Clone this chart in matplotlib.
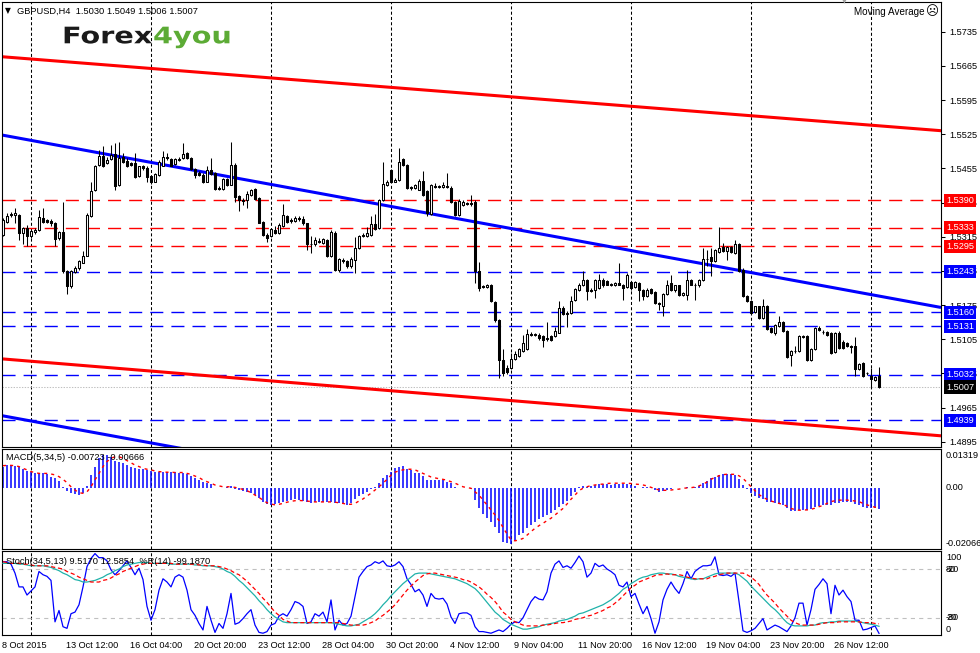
import numpy as np
import matplotlib
matplotlib.use("Agg")
import matplotlib.pyplot as plt
from matplotlib.patches import Rectangle, PathPatch
from matplotlib.collections import PatchCollection
from matplotlib.textpath import TextPath
from matplotlib.font_manager import FontProperties
from matplotlib.transforms import Affine2D, blended_transform_factory

plt.rcParams["font.family"] = ["Liberation Sans", "DejaVu Sans"]
plt.rcParams["lines.scale_dashes"] = False

# ---- GBPUSD H4 candles ---------------------------------------------------
opens = np.array([
    1.5319, 1.5346, 1.5359, 1.5359, 1.5359, 1.5322, 1.5333, 1.5316, 1.5324, 1.5329,
    1.5353, 1.5350, 1.5348, 1.5344, 1.5312, 1.5325, 1.5245, 1.5213, 1.5243, 1.5250,
    1.5262, 1.5276, 1.5357, 1.5410, 1.5462, 1.5481, 1.5466, 1.5474, 1.5484, 1.5421,
    1.5479, 1.5470, 1.5466, 1.5466, 1.5440, 1.5460, 1.5455, 1.5440, 1.5428, 1.5442,
    1.5460, 1.5479, 1.5474, 1.5464, 1.5472, 1.5476, 1.5486, 1.5476, 1.5453, 1.5445,
    1.5442, 1.5428, 1.5452, 1.5445, 1.5414, 1.5412, 1.5434, 1.5421, 1.5462, 1.5399,
    1.5391, 1.5391, 1.5401, 1.5412, 1.5394, 1.5346, 1.5319, 1.5316, 1.5329, 1.5322,
    1.5336, 1.5358, 1.5350, 1.5348, 1.5353, 1.5351, 1.5342, 1.5301, 1.5299, 1.5307,
    1.5302, 1.5309, 1.5275, 1.5322, 1.5246, 1.5268, 1.5265, 1.5254, 1.5268, 1.5292,
    1.5317, 1.5316, 1.5319, 1.5341, 1.5333, 1.5391, 1.5421, 1.5452, 1.5428, 1.5432,
    1.5474, 1.5462, 1.5416, 1.5414, 1.5411, 1.5430, 1.5408, 1.5362, 1.5419, 1.5417,
    1.5416, 1.5419, 1.5414, 1.5387, 1.5360, 1.5380, 1.5384, 1.5385, 1.5387, 1.5244,
    1.5213, 1.5211, 1.5217, 1.5181, 1.5145, 1.5063, 1.5046, 1.5046, 1.5065, 1.5070,
    1.5080, 1.5084, 1.5116, 1.5114, 1.5114, 1.5112, 1.5108, 1.5111, 1.5111, 1.5118,
    1.5169, 1.5159, 1.5159, 1.5186, 1.5206, 1.5215, 1.5227, 1.5206, 1.5205, 1.5210,
    1.5227, 1.5225, 1.5217, 1.5215, 1.5220, 1.5217, 1.5212, 1.5222, 1.5212, 1.5220,
    1.5205, 1.5193, 1.5208, 1.5201, 1.5179, 1.5174, 1.5198, 1.5220, 1.5205, 1.5215,
    1.5195, 1.5196, 1.5227, 1.5217, 1.5215, 1.5227, 1.5270, 1.5273, 1.5266, 1.5284,
    1.5294, 1.5285, 1.5293, 1.5282, 1.5301, 1.5247, 1.5194, 1.5183, 1.5160, 1.5172,
    1.5148, 1.5174, 1.5128, 1.5118, 1.5133, 1.5140, 1.5121, 1.5072, 1.5080, 1.5080,
    1.5110, 1.5111, 1.5063, 1.5084, 1.5127, 1.5120, 1.5120, 1.5118, 1.5078, 1.5118,
    1.5099, 1.5097, 1.5092, 1.5091, 1.5043, 1.5056, 1.5036, 1.5029, 1.5022, 1.5030])
highs = np.array([
    1.5353, 1.5363, 1.5365, 1.5374, 1.5361, 1.5335, 1.5338, 1.5329, 1.5333, 1.5370,
    1.5374, 1.5352, 1.5352, 1.5346, 1.5327, 1.5386, 1.5247, 1.5247, 1.5254, 1.5268,
    1.5286, 1.5363, 1.5426, 1.5462, 1.5493, 1.5500, 1.5479, 1.5503, 1.5507, 1.5508,
    1.5486, 1.5476, 1.5468, 1.5486, 1.5460, 1.5462, 1.5459, 1.5442, 1.5445, 1.5472,
    1.5490, 1.5486, 1.5476, 1.5476, 1.5479, 1.5507, 1.5488, 1.5478, 1.5455, 1.5449,
    1.5445, 1.5460, 1.5476, 1.5447, 1.5418, 1.5435, 1.5435, 1.5509, 1.5466, 1.5401,
    1.5394, 1.5408, 1.5412, 1.5414, 1.5396, 1.5348, 1.5322, 1.5333, 1.5336, 1.5342,
    1.5382, 1.5360, 1.5353, 1.5358, 1.5357, 1.5357, 1.5343, 1.5316, 1.5314, 1.5312,
    1.5312, 1.5311, 1.5329, 1.5326, 1.5271, 1.5271, 1.5268, 1.5273, 1.5314, 1.5319,
    1.5322, 1.5335, 1.5358, 1.5361, 1.5392, 1.5467, 1.5432, 1.5453, 1.5435, 1.5496,
    1.5476, 1.5464, 1.5419, 1.5423, 1.5433, 1.5449, 1.5410, 1.5423, 1.5425, 1.5421,
    1.5428, 1.5445, 1.5418, 1.5389, 1.5392, 1.5391, 1.5387, 1.5401, 1.5391, 1.5264,
    1.5217, 1.5219, 1.5219, 1.5183, 1.5147, 1.5084, 1.5053, 1.5077, 1.5080, 1.5087,
    1.5114, 1.5126, 1.5119, 1.5118, 1.5118, 1.5114, 1.5141, 1.5114, 1.5129, 1.5183,
    1.5172, 1.5162, 1.5194, 1.5210, 1.5220, 1.5244, 1.5229, 1.5210, 1.5229, 1.5239,
    1.5230, 1.5227, 1.5221, 1.5223, 1.5261, 1.5219, 1.5241, 1.5224, 1.5224, 1.5222,
    1.5208, 1.5210, 1.5210, 1.5203, 1.5181, 1.5200, 1.5227, 1.5237, 1.5217, 1.5217,
    1.5202, 1.5247, 1.5229, 1.5220, 1.5228, 1.5292, 1.5288, 1.5292, 1.5290, 1.5335,
    1.5302, 1.5295, 1.5295, 1.5309, 1.5302, 1.5250, 1.5196, 1.5185, 1.5174, 1.5174,
    1.5188, 1.5176, 1.5130, 1.5137, 1.5153, 1.5142, 1.5123, 1.5082, 1.5091, 1.5113,
    1.5114, 1.5113, 1.5087, 1.5130, 1.5131, 1.5123, 1.5122, 1.5120, 1.5120, 1.5121,
    1.5104, 1.5099, 1.5094, 1.5110, 1.5056, 1.5058, 1.5038, 1.5046, 1.5030, 1.5049])
lows = np.array([
    1.5316, 1.5343, 1.5355, 1.5343, 1.5309, 1.5299, 1.5296, 1.5312, 1.5321, 1.5327,
    1.5344, 1.5343, 1.5336, 1.5296, 1.5309, 1.5241, 1.5198, 1.5210, 1.5241, 1.5247,
    1.5261, 1.5275, 1.5355, 1.5408, 1.5460, 1.5457, 1.5464, 1.5472, 1.5411, 1.5419,
    1.5466, 1.5457, 1.5459, 1.5435, 1.5437, 1.5452, 1.5428, 1.5423, 1.5426, 1.5440,
    1.5459, 1.5472, 1.5459, 1.5462, 1.5471, 1.5474, 1.5474, 1.5452, 1.5435, 1.5440,
    1.5425, 1.5426, 1.5442, 1.5411, 1.5410, 1.5411, 1.5419, 1.5420, 1.5387, 1.5367,
    1.5380, 1.5374, 1.5399, 1.5391, 1.5342, 1.5316, 1.5305, 1.5314, 1.5320, 1.5321,
    1.5335, 1.5343, 1.5343, 1.5346, 1.5348, 1.5339, 1.5288, 1.5282, 1.5296, 1.5302,
    1.5300, 1.5273, 1.5273, 1.5244, 1.5243, 1.5261, 1.5251, 1.5251, 1.5241, 1.5290,
    1.5314, 1.5314, 1.5317, 1.5328, 1.5331, 1.5389, 1.5419, 1.5426, 1.5426, 1.5430,
    1.5460, 1.5412, 1.5411, 1.5412, 1.5410, 1.5399, 1.5357, 1.5360, 1.5414, 1.5414,
    1.5414, 1.5414, 1.5385, 1.5358, 1.5358, 1.5378, 1.5380, 1.5378, 1.5220, 1.5203,
    1.5209, 1.5209, 1.5181, 1.5141, 1.5026, 1.5029, 1.5033, 1.5043, 1.5063, 1.5069,
    1.5079, 1.5082, 1.5111, 1.5111, 1.5104, 1.5089, 1.5101, 1.5101, 1.5110, 1.5117,
    1.5155, 1.5130, 1.5157, 1.5184, 1.5204, 1.5213, 1.5186, 1.5201, 1.5189, 1.5208,
    1.5212, 1.5215, 1.5213, 1.5213, 1.5215, 1.5186, 1.5210, 1.5206, 1.5210, 1.5183,
    1.5186, 1.5191, 1.5198, 1.5177, 1.5164, 1.5152, 1.5196, 1.5203, 1.5201, 1.5193,
    1.5193, 1.5186, 1.5215, 1.5186, 1.5212, 1.5225, 1.5254, 1.5235, 1.5264, 1.5282,
    1.5283, 1.5268, 1.5282, 1.5280, 1.5242, 1.5191, 1.5181, 1.5157, 1.5158, 1.5146,
    1.5146, 1.5123, 1.5117, 1.5114, 1.5130, 1.5119, 1.5066, 1.5050, 1.5077, 1.5078,
    1.5108, 1.5061, 1.5061, 1.5082, 1.5121, 1.5116, 1.5111, 1.5075, 1.5076, 1.5085,
    1.5085, 1.5089, 1.5077, 1.5029, 1.5041, 1.5027, 1.5032, 1.5007, 1.5020, 1.5006])
closes = np.array([
    1.5350, 1.5357, 1.5361, 1.5363, 1.5322, 1.5333, 1.5316, 1.5326, 1.5329, 1.5355,
    1.5346, 1.5346, 1.5343, 1.5310, 1.5324, 1.5244, 1.5213, 1.5244, 1.5250, 1.5265,
    1.5276, 1.5360, 1.5408, 1.5460, 1.5481, 1.5459, 1.5472, 1.5483, 1.5418, 1.5476,
    1.5467, 1.5459, 1.5462, 1.5438, 1.5459, 1.5455, 1.5438, 1.5426, 1.5444, 1.5469,
    1.5479, 1.5476, 1.5460, 1.5474, 1.5475, 1.5484, 1.5476, 1.5453, 1.5442, 1.5442,
    1.5428, 1.5452, 1.5444, 1.5413, 1.5412, 1.5433, 1.5421, 1.5462, 1.5397, 1.5391,
    1.5389, 1.5403, 1.5411, 1.5393, 1.5344, 1.5318, 1.5312, 1.5331, 1.5322, 1.5339,
    1.5360, 1.5346, 1.5348, 1.5354, 1.5351, 1.5342, 1.5301, 1.5299, 1.5309, 1.5305,
    1.5310, 1.5276, 1.5324, 1.5247, 1.5269, 1.5265, 1.5254, 1.5269, 1.5292, 1.5316,
    1.5319, 1.5322, 1.5341, 1.5331, 1.5391, 1.5423, 1.5426, 1.5428, 1.5432, 1.5469,
    1.5462, 1.5414, 1.5414, 1.5421, 1.5430, 1.5401, 1.5363, 1.5421, 1.5417, 1.5418,
    1.5420, 1.5416, 1.5387, 1.5360, 1.5389, 1.5387, 1.5382, 1.5382, 1.5244, 1.5210,
    1.5212, 1.5215, 1.5183, 1.5145, 1.5063, 1.5036, 1.5037, 1.5065, 1.5074, 1.5084,
    1.5097, 1.5116, 1.5114, 1.5115, 1.5108, 1.5104, 1.5106, 1.5104, 1.5121, 1.5169,
    1.5157, 1.5157, 1.5183, 1.5208, 1.5217, 1.5227, 1.5203, 1.5204, 1.5227, 1.5226,
    1.5215, 1.5217, 1.5217, 1.5220, 1.5217, 1.5210, 1.5237, 1.5209, 1.5222, 1.5206,
    1.5193, 1.5206, 1.5200, 1.5179, 1.5177, 1.5198, 1.5215, 1.5205, 1.5215, 1.5195,
    1.5200, 1.5227, 1.5217, 1.5215, 1.5227, 1.5269, 1.5270, 1.5266, 1.5287, 1.5292,
    1.5285, 1.5293, 1.5284, 1.5300, 1.5244, 1.5193, 1.5183, 1.5159, 1.5172, 1.5148,
    1.5174, 1.5125, 1.5119, 1.5135, 1.5141, 1.5121, 1.5068, 1.5080, 1.5080, 1.5111,
    1.5112, 1.5063, 1.5085, 1.5128, 1.5124, 1.5119, 1.5113, 1.5077, 1.5118, 1.5087,
    1.5087, 1.5091, 1.5090, 1.5043, 1.5054, 1.5029, 1.5035, 1.5024, 1.5027, 1.5007])

# MACD(5,34,5) in pips (x 0.0001): histogram and signal
macd_main = np.array([
    71, 76, 76, 74, 69, 62, 57, 52, 48, 48, 48, 45, 37, 31, 24, 3, -10, -17, -21, -25,
    -17, 6, 43, 71, 99, 110, 110, 102, 91, 88, 82, 76, 71, 65, 63, 62, 60, 57, 54, 54,
    54, 53, 52, 52, 51, 51, 46, 39, 31, 26, 20, 15, 11, 0, -2, 0, 3, 6, -6, -8,
    -10, -13, -17, -25, -36, -47, -55, -58, -55, -53, -47, -44, -42, -39, -42, -44, -47, -51, -48, -47,
    -47, -47, -47, -51, -53, -55, -58, -51, -39, -28, -21, -13, -6, 3, 15, 31, 43, 54, 65, 71,
    74, 62, 60, 51, 48, 39, 26, 26, 26, 26, 26, 20, 15, 1, -2, -2, -2, -6, -42, -70,
    -89, -103, -115, -134, -154, -182, -188, -190, -176, -160, -152, -137, -126, -115, -107, -98, -92, -84, -75, -64,
    -55, -44, -28, -13, 1, 6, 3, 7, 9, 12, 12, 11, 9, 12, 11, 11, 12, 9, 6, 0,
    3, 1, -2, -8, -13, -10, -8, -3, -2, -2, -2, 1, 0, 3, 6, 15, 24, 31, 37, 43,
    45, 45, 45, 43, 28, 9, -6, -19, -28, -36, -39, -47, -49, -51, -55, -58, -70, -79, -77, -75,
    -75, -75, -72, -64, -62, -60, -58, -58, -53, -51, -47, -47, -47, -55, -58, -64, -67, -70, -69, -72.3])
macd_signal = np.array([
    74, 75, 75, 74, 71, 65, 60, 54, 51, 48, 48, 48, 46, 43, 37, 28, 17, 3, -8, -17,
    -19, -14, 3, 26, 48, 71, 88, 99, 104, 104, 99, 91, 84, 76, 71, 65, 62, 60, 56, 54,
    53, 52, 52, 51, 51, 51, 48, 45, 39, 34, 26, 20, 15, 9, 6, 3, 3, 3, 1, -2,
    -6, -10, -17, -25, -33, -42, -51, -55, -58, -56, -53, -49, -46, -44, -43, -44, -45, -47, -48, -48,
    -48, -48, -48, -49, -51, -53, -56, -56, -53, -45, -38, -28, -19, -8, 3, 15, 28, 42, 52, 57,
    60, 62, 62, 60, 54, 48, 42, 36, 33, 30, 28, 25, 20, 15, 9, 3, 0, -2, -14, -25,
    -42, -58, -75, -92, -111, -134, -156, -176, -179, -176, -171, -160, -148, -137, -128, -120, -111, -103, -92, -81,
    -70, -55, -39, -25, -10, -2, 3, 7, 9, 11, 12, 14, 15, 15, 15, 15, 15, 14, 12, 11,
    9, 6, 1, -3, -8, -9, -9, -8, -6, -5, -2, -1, 0, 2, 6, 11, 19, 28, 35, 40,
    44, 45, 45, 45, 40, 31, 18, 3, -10, -23, -33, -39, -45, -49, -53, -56, -63, -70, -74, -76,
    -75, -75, -73, -69, -64, -60, -53, -47, -44, -42, -42, -42, -43, -45, -47, -53, -58, -62, -66, -66.6])

# Stochastic(34,5,13) main / signal and Williams %R(14)
stoch_main = np.array([
    87, 87, 87, 87, 86, 86, 85, 84, 84, 84, 84, 83, 82, 80, 78, 75, 73, 70, 67, 66,
    64, 64, 65, 66, 68, 70, 73, 75, 78, 80, 83, 85, 86, 87, 88, 88, 88, 87, 87, 87,
    87, 87, 86, 86, 86, 86, 86, 86, 85, 85, 84, 84, 84, 83, 82, 80, 77, 75, 71, 66,
    62, 57, 52, 47, 41, 36, 30, 25, 21, 18, 15, 14, 14, 14, 14, 14, 14, 14, 14, 14,
    14, 14, 14, 13, 12, 11, 10, 10, 11, 12, 15, 18, 21, 25, 30, 36, 41, 47, 52, 57,
    62, 66, 70, 74, 75, 75, 75, 74, 73, 72, 71, 70, 69, 68, 66, 64, 62, 59, 56, 51,
    45, 39, 33, 27, 23, 18, 15, 12, 10, 8, 6, 6, 7, 8, 9, 11, 12, 13, 14, 16,
    17, 18, 20, 22, 25, 26, 28, 30, 32, 34, 36, 39, 42, 46, 50, 55, 58, 62, 65, 68,
    70, 71, 73, 74, 75, 75, 74, 74, 73, 71, 70, 69, 68, 67, 68, 68, 70, 72, 74, 75,
    75, 75, 75, 75, 73, 69, 65, 59, 54, 49, 44, 39, 34, 30, 25, 19, 14, 11, 10, 10,
    10, 10, 11, 11, 13, 14, 14, 15, 15, 16, 16, 16, 16, 16, 15, 14, 13, 12, 11, 9.517])
stoch_signal = np.array([
    89, 88, 87, 87, 87, 86, 86, 85, 84, 84, 84, 84, 83, 82, 81, 80, 77, 75, 73, 70,
    68, 66, 64, 64, 64, 66, 67, 69, 72, 74, 77, 79, 81, 83, 85, 86, 87, 87, 87, 87,
    87, 87, 87, 86, 86, 86, 86, 86, 86, 85, 85, 84, 84, 84, 83, 82, 80, 78, 75, 73,
    69, 65, 60, 55, 50, 44, 39, 33, 27, 23, 18, 16, 14, 14, 14, 14, 14, 14, 14, 14,
    14, 14, 14, 14, 14, 13, 12, 11, 11, 11, 11, 12, 14, 16, 20, 23, 27, 31, 36, 42,
    48, 54, 59, 64, 68, 72, 74, 75, 75, 74, 73, 72, 71, 70, 69, 67, 66, 64, 61, 58,
    54, 49, 45, 40, 34, 27, 23, 18, 15, 13, 11, 10, 10, 10, 10, 11, 11, 12, 13, 14,
    14, 15, 16, 18, 19, 20, 22, 23, 25, 27, 29, 32, 34, 38, 42, 47, 52, 57, 60, 64,
    66, 68, 70, 72, 73, 73, 74, 73, 73, 73, 72, 70, 69, 68, 68, 68, 68, 70, 71, 73,
    74, 75, 75, 75, 75, 75, 73, 70, 66, 61, 54, 48, 43, 38, 32, 27, 22, 17, 14, 12,
    11, 11, 11, 11, 12, 13, 14, 14, 14, 15, 15, 15, 15, 15, 15, 14, 14, 14, 13, 12.585])
williams_r = np.array([
    -11, -11, -14, -25, -42, -42, -52, -47, -42, -23, -27, -29, -34, -85, -71, -91, -93, -75, -73, -64,
    -42, -17, -7, -1, -6, -6, -10, -21, -27, -22, -16, -10, -18, -27, -19, -33, -66, -83, -70, -46,
    -32, -36, -42, -30, -27, -30, -46, -70, -77, -87, -95, -66, -83, -98, -87, -93, -75, -50, -88, -86,
    -81, -75, -70, -89, -98, -99, -97, -89, -87, -78, -75, -78, -70, -60, -62, -66, -87, -85, -75, -78,
    -73, -85, -58, -95, -83, -89, -87, -78, -54, -30, -23, -17, -15, -11, -13, -10, -16, -17, -15, -11,
    -17, -32, -39, -48, -45, -52, -66, -50, -56, -57, -56, -63, -79, -87, -75, -74, -74, -77, -91, -97,
    -97, -98, -99, -97, -95, -97, -93, -88, -85, -86, -80, -70, -60, -54, -57, -58, -48, -25, -14, -10,
    -18, -16, -19, -12, -4, -11, -30, -25, -13, -17, -15, -20, -23, -27, -40, -42, -36, -54, -50, -63,
    -75, -66, -81, -99, -85, -58, -45, -36, -44, -50, -38, -23, -32, -23, -19, -16, -16, -15, -5, -27,
    -28, -27, -29, -25, -60, -96, -98, -96, -93, -87, -81, -95, -92, -89, -91, -94, -97, -90, -80, -62,
    -62, -89, -70, -45, -39, -32, -38, -75, -40, -52, -46, -54, -60, -83, -83, -95, -94, -92, -90, -99.187])

# objects drawn on the chart: horizontal levels and channel lines (bar, price)
red_levels = [1.5390, 1.5333, 1.5295]
blue_levels = [1.5243, 1.5160, 1.5131, 1.5032, 1.4939]
last_price = 1.5007
red_channel = [((-0.75, 1.5684), (234.7, 1.5532)),
               ((-0.75, 1.5065), (234.5, 1.4907))]
blue_channel = [((-0.75, 1.5524), (234.5, 1.5170)),
                ((-0.75, 1.4949), (60.0, 1.4858))]
price_ticks = [1.4895 + 0.0070 * k for k in range(13)]
grid_bars = [7, 37, 67, 97, 127, 157, 187, 217]
date_bars = [0, 15, 31, 47, 63, 79, 95, 111, 127, 143, 159, 175, 191, 207]
date_labels = ["8 Oct 2015", "13 Oct 12:00", "16 Oct 04:00", "20 Oct 20:00",
               "23 Oct 12:00", "28 Oct 04:00", "30 Oct 20:00", "4 Nov 12:00",
               "9 Nov 04:00", "11 Nov 20:00", "16 Nov 12:00", "19 Nov 04:00",
               "23 Nov 20:00", "26 Nov 12:00"]

n = len(closes)
for arr in (opens, highs, lows, macd_main, macd_signal, stoch_main, stoch_signal, williams_r):
    assert len(arr) == n, len(arr)
idx = np.arange(n)

W, H = 980, 653
fig = plt.figure(figsize=(W / 100, H / 100), dpi=100, facecolor="white")


def px_axes(x0, y0, x1, y1):
    a = fig.add_axes([x0 / W, 1 - y1 / H, (x1 - x0) / W, (y1 - y0) / H])
    a.set_xlim((x0 - 3) / 4, (x1 - 3) / 4)     # bar i sits at pixel 3 + 4 i
    a.set_xticks([])
    a.set_yticks([])
    for s in a.spines.values():
        s.set_linewidth(0.8)
        s.set_color("black")
    for g in grid_bars:
        a.axvline(g, color="black", lw=0.75, ls=(0, (2.2, 1.6)), zorder=0.5)
    return a


ax = px_axes(1.5, 2, 941, 447)
axm = px_axes(1.5, 448.5, 941, 549)
axs = px_axes(1.5, 551, 941, 635)

# ---- price panel -----------------------------------------------------------
ax.set_ylim(1.48841, 1.57958)
for lv in red_levels:
    ax.axhline(lv, color="#ff0000", lw=1.0, ls=(0, (9.4, 5.8)), zorder=1)
for lv in blue_levels:
    ax.axhline(lv, color="#0000ff", lw=1.0, ls=(0, (9.4, 5.8)), zorder=1)
ax.axhline(last_price, color="#c0c0c0", lw=0.75, ls=(0, (1, 1)), zorder=1)
for (x0, y0), (x1, y1) in red_channel:
    ax.plot([x0, x1], [y0, y1], color="#ff0000", lw=2.2, zorder=1.5, solid_capstyle="butt")
for (x0, y0), (x1, y1) in blue_channel:
    ax.plot([x0, x1], [y0, y1], color="#0000ff", lw=2.2, zorder=1.5, solid_capstyle="butt")

ax.vlines(idx, lows, highs, color="black", lw=0.75, zorder=2)
bodies, fills = [], []
for i in range(n):
    lo_b, hi_b = min(opens[i], closes[i]), max(opens[i], closes[i])
    bodies.append(Rectangle((i - 0.25, lo_b), 0.5, max(hi_b - lo_b, 0.00002)))
    fills.append("white" if closes[i] >= opens[i] else "black")
ax.add_collection(PatchCollection(bodies, facecolors=fills, edgecolors="black",
                                  linewidths=0.75, zorder=3))

ax.yaxis.tick_right()
ax.set_yticks(price_ticks)
ax.set_yticklabels([f"{t:.4f}" for t in price_ticks])
ax.tick_params(axis="y", length=3, width=0.75, pad=3, labelsize=6.6, colors="black")

lab_tr = blended_transform_factory(fig.transFigure, ax.transData)
for levels, col in ((red_levels, "#ff0000"), (blue_levels, "#0000ff"), ([last_price], "black")):
    for lv in levels:
        ax.text(946 / W, lv, f"{lv:.4f}", transform=lab_tr, color="white", fontsize=6.6,
                va="center", ha="left", clip_on=False, zorder=6,
                bbox=dict(boxstyle="square,pad=0.22", fc=col, ec="none"))

# ---- MACD panel ------------------------------------------------------------
axm.set_ylim(-206.6, 131.9)
axm.vlines(idx, 0, macd_main, color="#0000ff", lw=1.1, zorder=2)
axm.plot(idx, macd_signal, color="#ff0000", lw=1.0, ls=(0, (2.2, 2.9)), zorder=3)

# ---- Stochastic / %R panel -------------------------------------------------
axs.set_ylim(-1.2, 102.2)
for lv in (20, 80):
    axs.axhline(lv, color="#c0c0c0", lw=0.8, ls=(0, (3, 3)), zorder=1)
axs.plot(idx, williams_r + 100, color="#0000ff", lw=0.9, zorder=2)
axs.plot(idx, stoch_main, color="#20b2aa", lw=0.9, zorder=3)
axs.plot(idx, stoch_signal, color="#ff0000", lw=0.9, ls=(0, (3, 2)), zorder=4)

# ---- texts in pixel space --------------------------------------------------
ov = fig.add_axes([0, 0, 1, 1], zorder=10)
ov.set_xlim(0, W)
ov.set_ylim(H, 0)
ov.axis("off")

fs = 6.7
ov.text(5, 11, "\u25bc", fontsize=5.5, va="center", ha="left", family=["DejaVu Sans"])
ov.text(17, 11, "GBPUSD,H4  1.5030 1.5049 1.5006 1.5007", fontsize=fs, va="center")
ov.text(842, 2, "\u25bc", fontsize=4.5, color="#a0a0a0", va="center", family=["DejaVu Sans"])
ov.text(854, 12, "Moving Average", fontsize=7.1, va="center")
ov.text(926, 12, "\u2639", fontsize=9, va="center", family=["DejaVu Sans"])

fp = FontProperties(family="DejaVu Sans", weight="bold")
x_logo = 62
for word, col in (("Forex", "#1a1a1a"), ("4you", "#5cab35")):
    tp = TextPath((0, 0), word, size=1, prop=fp)
    tr = Affine2D().scale(28.7, -22.8).translate(x_logo, 43.3) + ov.transData
    ov.add_patch(PathPatch(tp, fc=col, ec="none", transform=tr))
    x_logo += (tp.get_extents().x1 + 0.04) * 28.7

ov.text(6, 457, "MACD(5,34,5) -0.00723 -0.00666", fontsize=fs, va="center")
ov.text(6, 561, "Stoch(34,5,13) 9.5170 12.5854  %R(14) -99.1870", fontsize=fs, va="center")

for txt, y in (("0.01319", 455), ("0.00", 487.5), ("-0.02066", 543)):
    ov.text(946, y, txt, fontsize=6.6, va="center")
# the stochastic and %R levels share the window, so their labels overprint
for txt, y in (("100", 558), ("80", 569), ("-20", 569), ("20", 618), ("-80", 618), ("0", 629)):
    ov.text(946, y, txt, fontsize=6.6, va="center")

for b, lab in zip(date_bars, date_labels):
    x = 2 if b == 0 else 3 + 4 * b + 2.5
    ov.text(x, 645, lab, fontsize=6.6, va="center", ha="left")

fig.savefig("out.png", dpi=100, facecolor="white")
